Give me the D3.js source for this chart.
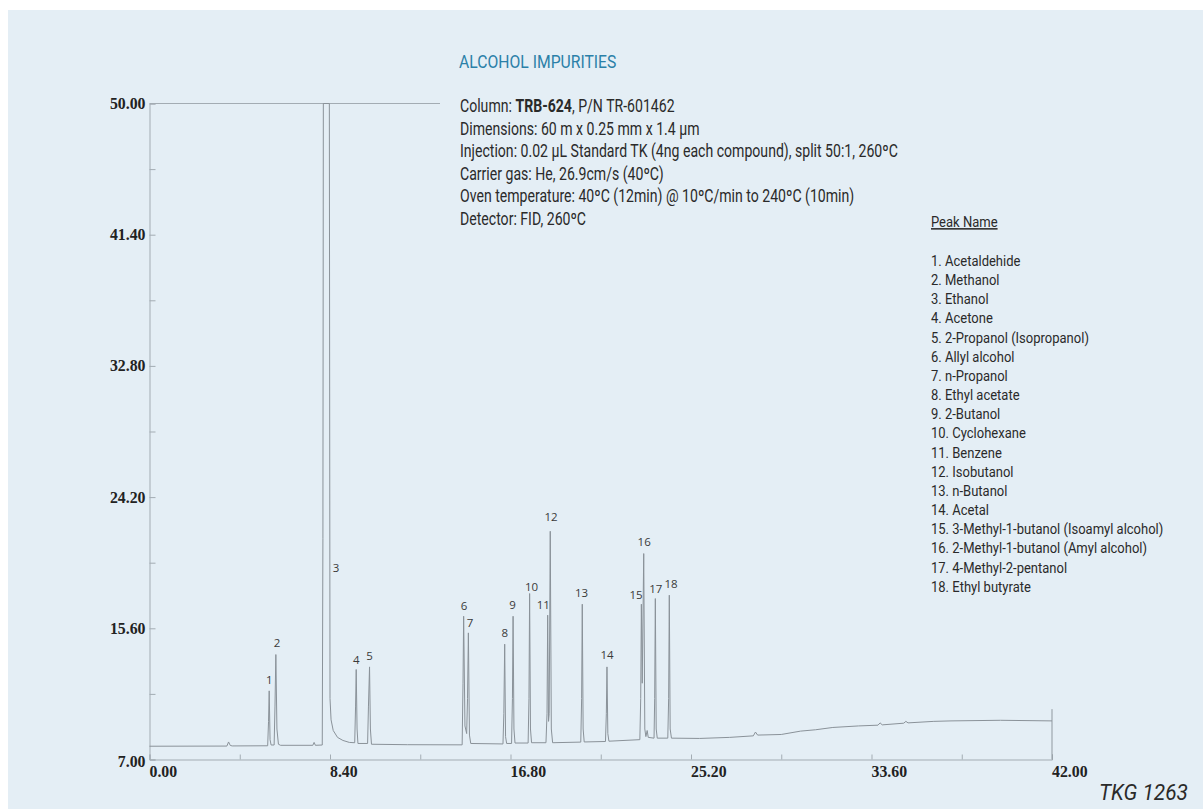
<!DOCTYPE html>
<html>
<head>
<meta charset="utf-8">
<script src="https://cdn.jsdelivr.net/npm/d3@7"></script>
<style>
  html, body { margin: 0; padding: 0; background: #ffffff; }
  svg { display: block; }
</style>
</head>
<body>
<svg id="chart" width="1203" height="809"></svg>
<script>
// ---------------- DATA ----------------
const title = "ALCOHOL IMPURITIES";
const infoLines = [
  [{t: "Column: "}, {t: "TRB-624", b: true}, {t: ", P/N TR-601462"}],
  [{t: "Dimensions: 60 m x 0.25 mm x 1.4 µm"}],
  [{t: "Injection: 0.02 µL Standard TK (4ng each compound), split 50:1, 260ºC"}],
  [{t: "Carrier gas: He, 26.9cm/s (40ºC)"}],
  [{t: "Oven temperature: 40ºC (12min) @ 10ºC/min to 240ºC (10min)"}],
  [{t: "Detector: FID, 260ºC"}]
];
const legendTitle = "Peak Name";
const peakNames = [
  "1. Acetaldehide", "2. Methanol", "3. Ethanol", "4. Acetone",
  "5. 2-Propanol (Isopropanol)", "6. Allyl alcohol", "7. n-Propanol",
  "8. Ethyl acetate", "9. 2-Butanol", "10. Cyclohexane", "11. Benzene",
  "12. Isobutanol", "13. n-Butanol", "14. Acetal",
  "15. 3-Methyl-1-butanol (Isoamyl alcohol)", "16. 2-Methyl-1-butanol (Amyl alcohol)",
  "17. 4-Methyl-2-pentanol", "18. Ethyl butyrate"
];
const xTickLabels = ["0.00", "8.40", "16.80", "25.20", "33.60", "42.00"];
const yTickLabels = ["7.00", "15.60", "24.20", "32.80", "41.40", "50.00"];
const footer = "TKG 1263";

// peak label: number, retention time (min), label height (signal units)
const peakLabelIds   = [1, 2, 3, 4, 5, 6, 7, 8, 9, 10, 11, 12, 13, 14, 15, 16, 17, 18];
const peakLabelTimes = [5.57, 5.93, 8.68, 9.62, 10.24, 14.64, 14.92, 16.53, 16.90, 17.78, 18.33, 18.69, 20.11, 21.29, 22.64, 23.02, 23.56, 24.27];
const peakLabelVals  = [12.21, 14.65, 19.58, 13.5, 13.77, 17.07, 15.97, 15.3, 17.16, 18.3, 17.16, 22.89, 17.89, 13.83, 17.8, 21.26, 18.15, 18.52];

// chromatogram trace: [time (min), signal]
const trace = [
  [0.00, 7.87], [3.60, 7.88], [3.68, 8.15], [3.76, 7.92], [3.85, 7.89],
  [5.50, 7.90], [5.54, 9.50], [5.57, 11.50], [5.61, 8.30], [5.66, 7.95],
  [5.80, 7.95], [5.84, 10.50], [5.88, 13.88], [5.93, 9.00], [6.00, 8.00], [6.10, 7.93],
  [7.60, 7.93], [7.66, 8.12], [7.72, 7.93], [8.04, 7.95],
  [8.07, 21.50], [8.09, 50.00], [8.37, 50.00], [8.40, 11.00], [8.45, 9.60],
  [8.55, 8.90], [8.75, 8.45], [9.00, 8.25], [9.30, 8.12], [9.55, 8.10],
  [9.59, 10.50], [9.62, 12.90], [9.66, 9.00], [9.70, 8.05], [10.15, 8.05],
  [10.19, 10.50], [10.24, 13.07], [10.28, 9.00], [10.33, 8.00],
  [12.00, 7.97], [14.55, 7.96], [14.59, 12.00], [14.62, 16.39], [14.68, 9.20],
  [14.76, 8.70], [14.80, 11.00], [14.84, 15.30], [14.89, 8.60], [14.95, 8.05],
  [16.45, 8.02], [16.49, 10.00], [16.53, 14.56], [16.57, 8.50], [16.62, 8.05],
  [16.85, 8.05], [16.89, 11.00], [16.92, 16.39], [16.96, 9.00], [17.01, 8.08],
  [17.62, 8.08], [17.66, 11.00], [17.69, 17.88], [17.73, 9.00], [17.78, 8.10],
  [18.45, 8.10], [18.50, 10.00], [18.53, 16.46], [18.57, 9.50], [18.60, 10.00],
  [18.65, 21.96], [18.70, 9.00], [18.76, 8.10],
  [20.07, 8.14], [20.11, 11.00], [20.14, 17.18], [20.18, 9.00], [20.23, 8.15],
  [21.22, 8.18], [21.26, 10.00], [21.29, 13.07], [21.33, 8.70], [21.38, 8.20],
  [22.82, 8.30], [22.86, 11.00], [22.89, 17.18], [22.93, 12.00], [23.00, 20.50],
  [23.05, 9.00], [23.10, 8.50], [23.16, 8.90], [23.21, 8.45],
  [23.48, 8.40], [23.51, 11.00], [23.54, 17.55], [23.58, 9.00], [23.63, 8.40],
  [24.12, 8.40], [24.16, 11.00], [24.19, 17.77], [24.23, 9.00], [24.29, 8.40],
  [25.60, 8.38], [27.00, 8.45], [28.10, 8.55], [28.20, 8.80], [28.30, 8.60],
  [29.40, 8.64], [30.30, 8.86], [31.00, 8.95], [31.80, 9.10], [33.00, 9.20],
  [33.90, 9.25], [34.00, 9.40], [34.10, 9.27], [35.10, 9.38], [35.20, 9.50],
  [35.30, 9.40], [36.50, 9.50], [37.30, 9.53], [39.60, 9.57], [42.00, 9.53]
];

// ---------------- DRAW ----------------
const svg = d3.select("#chart");
const W = 1203, H = 809;

svg.append("rect").attr("x", 8).attr("y", 10).attr("width", W - 8).attr("height", H - 10)
  .attr("fill", "#e4eef5");

const x = d3.scaleLinear().domain([0, 42]).range([149.5, 1052]);
const y = d3.scaleLinear().domain([7, 50]).range([759.5, 103.5]);

const axisColor = "#a3acb3";
const g = svg.append("g");

// x axis (ticks every 4.2 inward, labels every 8.4)
const xAxis = d3.axisTop(x).tickValues(d3.range(0, 42.01, 4.2)).tickSize(5).tickFormat("");
const gx = g.append("g").attr("transform", `translate(0,${y(7)})`).call(xAxis);
gx.select(".domain").attr("stroke", axisColor);
gx.selectAll(".tick line").attr("stroke", axisColor);
g.append("g").selectAll("text").data(xTickLabels).join("text")
  .attr("x", d => x(+d)).attr("y", y(7) + 17)
  .attr("font-family", "'Liberation Serif', 'Times New Roman', serif")
  .attr("font-weight", "bold").attr("font-size", 15.8).attr("fill", "#222")
  .text(d => d);

// y axis (ticks every 4.3 inward, labels every 8.6)
const yAxis = d3.axisRight(y).tickValues(d3.range(7, 50.01, 4.3)).tickSize(6).tickFormat("");
const gy = g.append("g").attr("transform", `translate(${x(0)},0)`).call(yAxis);
gy.select(".domain").attr("stroke", axisColor);
gy.selectAll(".tick line").attr("stroke", axisColor);
g.append("g").selectAll("text").data(yTickLabels).join("text")
  .attr("x", x(0) - 4).attr("y", d => y(+d) + (d === "7.00" ? 7 : 5.5))
  .attr("text-anchor", "end")
  .attr("font-family", "'Liberation Serif', 'Times New Roman', serif")
  .attr("font-weight", "bold").attr("font-size", 15.8).attr("fill", "#222")
  .text(d => d);

// top frame line at 50 and right end marker
g.append("line").attr("x1", x(0)).attr("x2", 440).attr("y1", y(50)).attr("y2", y(50))
  .attr("stroke", axisColor);
g.append("line").attr("x1", x(42)).attr("x2", x(42)).attr("y1", y(7)).attr("y2", y(10.3))
  .attr("stroke", "#8f989f");

// trace
const line = d3.line().x(d => x(d[0])).y(d => y(d[1]));
g.append("path").datum(trace).attr("d", line)
  .attr("fill", "none").attr("stroke", "#8a9299").attr("stroke-width", 1)
  .attr("stroke-linejoin", "round");

// peak labels
g.append("g").selectAll("text").data(peakLabelIds).join("text")
  .attr("x", (d, i) => x(peakLabelTimes[i]))
  .attr("y", (d, i) => y(peakLabelVals[i]))
  .attr("text-anchor", "middle").attr("dy", "0.35em")
  .attr("font-family", "'Open Sans', 'Noto Sans', sans-serif")
  .attr("font-size", 11.5).attr("fill", "#3a3a3a")
  .text(d => d);

// condensed text helper: horizontally compressed group anchored at x0
const narrow = "'Roboto', 'Liberation Sans', sans-serif";
function condensed(x0, s) {
  return svg.append("g").attr("transform", `translate(${x0},0) scale(${s},1)`);
}

// title
condensed(459, 0.85).append("text").attr("x", 0).attr("y", 68).attr("font-family", narrow)
  .attr("font-size", 18.5).attr("fill", "#2b80a8").text(title);

// info block
const info = condensed(460, 0.805);
infoLines.forEach((parts, i) => {
  const t = info.append("text").attr("x", 0).attr("y", 112.5 + i * 22.5)
    .attr("font-family", narrow).attr("font-size", 17.5).attr("fill", "#2a2a2a");
  parts.forEach(p => t.append("tspan").attr("font-weight", p.b ? "bold" : "normal").text(p.t));
});

// legend
const leg = condensed(931, 0.84);
leg.append("text").attr("x", 0).attr("y", 227).attr("font-family", narrow)
  .attr("font-size", 15.5).attr("fill", "#2a2a2a")
  .attr("text-decoration", "underline").text(legendTitle);
leg.append("g").selectAll("text").data(peakNames).join("text")
  .attr("x", 0).attr("y", (d, i) => 266 + i * 19.16)
  .attr("font-family", narrow).attr("font-size", 15.5).attr("fill", "#2a2a2a")
  .text(d => d);

// footer
condensed(1099, 0.95).append("text").attr("x", 0).attr("y", 800).attr("font-family", narrow)
  .attr("font-style", "italic").attr("font-size", 22).attr("fill", "#2a2a2a").text(footer);
</script>
</body>
</html>
